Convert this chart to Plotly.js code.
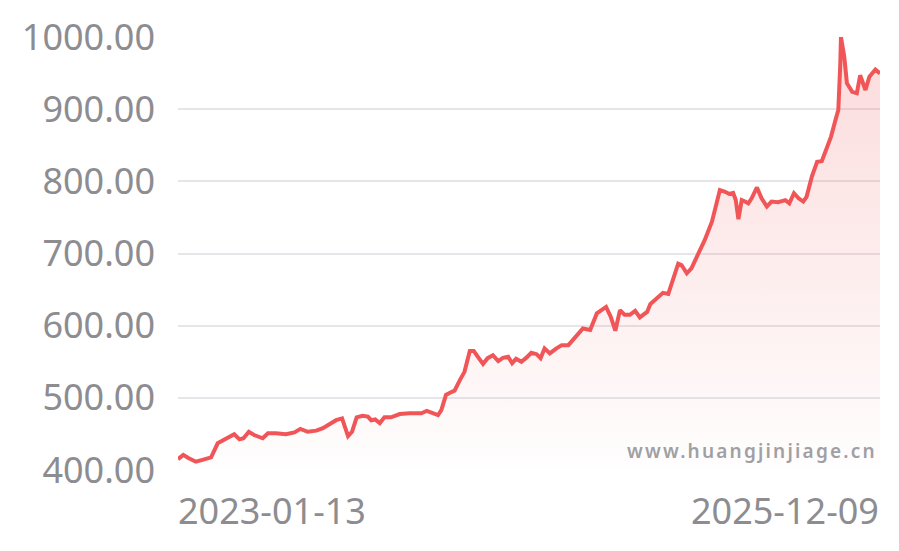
<!DOCTYPE html>
<html>
<head>
<meta charset="utf-8">
<script src="https://cdn.plot.ly/plotly-3.0.1.min.js"></script>
<style>
  html, body { margin: 0; padding: 0; background: #ffffff; }
  #chart { width: 899px; height: 551px; }
  .watermark-text { letter-spacing: 2.2px; }
</style>
</head>
<body>
<div id="chart"></div>
<script>
const dates = [
  '2023-01-13','2023-01-21','2023-01-28','2023-02-09','2023-02-19','2023-03-04','2023-03-14','2023-03-21','2023-03-29','2023-04-08',
  '2023-04-16','2023-04-22','2023-04-30','2023-05-08','2023-05-21','2023-05-29','2023-06-10','2023-06-25','2023-07-08','2023-07-17',
  '2023-07-28','2023-08-10','2023-08-20','2023-08-30','2023-09-09','2023-09-18','2023-09-27','2023-10-03','2023-10-10','2023-10-19',
  '2023-10-27','2023-11-01','2023-11-07','2023-11-14','2023-11-21','2023-12-01','2023-12-14','2023-12-29','2024-01-16','2024-01-24',
  '2024-01-31','2024-02-10','2024-02-15','2024-02-22','2024-02-28','2024-03-06','2024-03-14','2024-03-21','2024-03-29','2024-04-04',
  '2024-04-10','2024-04-18','2024-04-25','2024-05-03','2024-05-11','2024-05-18','2024-05-26','2024-06-01','2024-06-07','2024-06-15',
  '2024-06-23','2024-06-30','2024-07-08','2024-07-14','2024-07-20','2024-07-28','2024-08-07','2024-08-15','2024-08-25','2024-09-04',
  '2024-09-16','2024-09-27','2024-10-07','2024-10-14','2024-10-21','2024-10-28','2024-11-04','2024-11-11','2024-11-18','2024-11-26',
  '2024-12-04','2024-12-11','2024-12-22','2024-12-27','2025-01-05','2025-01-15','2025-01-23','2025-01-31','2025-02-07','2025-02-12',
  '2025-02-20','2025-02-27','2025-03-09','2025-03-19','2025-03-30','2025-04-06','2025-04-11','2025-04-19','2025-04-25','2025-05-01',
  '2025-05-05','2025-05-09','2025-05-14','2025-05-19','2025-05-24','2025-05-29','2025-06-06','2025-06-13','2025-06-21','2025-06-28',
  '2025-07-08','2025-07-19','2025-07-25','2025-08-01','2025-08-08','2025-08-15','2025-08-20','2025-08-28','2025-09-05','2025-09-12',
  '2025-09-18','2025-09-26','2025-10-02','2025-10-07','2025-10-10','2025-10-11','2025-10-16','2025-10-20','2025-10-28','2025-11-04',
  '2025-11-09','2025-11-17','2025-11-23','2025-12-02','2025-12-09'
];
const prices = [
  415, 421, 417, 411.5, 414, 417.5, 437, 440.5, 443, 449.5,
  442.5, 444, 453, 448.5, 444, 451, 451, 449.5, 452, 457,
  453, 454.5, 458, 463, 469, 471.5, 447, 453, 473, 475,
  474, 469, 470, 465, 473, 473, 477.5, 478.5, 478.5, 482,
  479.5, 476, 483, 504, 507, 510, 524.5, 536, 565, 565,
  557, 547, 555, 559, 551, 555.5, 557, 548, 554, 550,
  556, 562.5, 560.5, 555, 568.5, 561.5, 568.5, 573, 573, 584,
  596, 594, 617, 621.5, 626, 612.5, 593, 621.5, 615, 615,
  620.5, 611.5, 619, 630, 637, 645.5, 644, 668, 686, 684,
  672.5, 679.5, 698, 718.5, 744, 767, 788, 785.5, 782.5, 784,
  774, 747.5, 774, 772, 769.5, 776.5, 791.5, 776.5, 765, 772,
  771, 774, 769.5, 783.5, 776.5, 772, 778.5, 806.5, 827, 828,
  843.5, 862, 882.5, 899, 963.5, 1000, 972.5, 936, 924, 922,
  947, 926.5, 945, 955, 949.5
];
const xTickLabels = ['2023-01-13', '2025-12-09'];
const yTickValues = [400, 500, 600, 700, 800, 900, 1000];
const watermark = 'www.huangjinjiage.cn';

const labelFont = { family: 'Noto Sans, Open Sans, sans-serif', size: 36, color: '#8c8c91' };

const trace = {
  type: 'scatter',
  mode: 'lines',
  x: dates,
  y: prices,
  line: { color: '#f05558', width: 4 },
  fill: 'tozeroy',
  fillgradient: {
    type: 'vertical',
    start: 400,
    stop: 1000,
    colorscale: [[0, 'rgba(240,90,92,0.01)'], [1, 'rgba(240,90,92,0.22)']]
  },
  hoverinfo: 'skip'
};

const layout = {
  width: 899,
  height: 551,
  margin: { l: 178, r: 19, t: 37, b: 81 },
  paper_bgcolor: '#ffffff',
  plot_bgcolor: '#ffffff',
  showlegend: false,
  xaxis: {
    type: 'date',
    range: [dates[0], dates[dates.length - 1]],
    showgrid: false,
    zeroline: false,
    showline: false,
    showticklabels: false,
    ticks: ''
  },
  yaxis: {
    range: [400, 1000],
    tickvals: yTickValues,
    tickformat: '.2f',
    showgrid: true,
    gridcolor: '#e6e6ea',
    gridwidth: 2,
    zeroline: false,
    showline: false,
    ticks: '',
    ticklabelstandoff: 22,
    tickfont: labelFont
  },
  annotations: [
    { xref: 'paper', yref: 'paper', x: 0, y: 0, xanchor: 'left', yanchor: 'middle', yshift: -40, xshift: -2,
      text: xTickLabels[0], showarrow: false, font: labelFont },
    { xref: 'paper', yref: 'paper', x: 1, y: 0, xanchor: 'right', yanchor: 'middle', yshift: -40, xshift: 1,
      text: xTickLabels[1], showarrow: false, font: labelFont },
    { xref: 'paper', yref: 'paper', x: 0.641, y: 0.044, xanchor: 'left', yanchor: 'middle', xshift: 19,
      text: watermark, showarrow: false,
      font: { family: 'Noto Sans, Open Sans, sans-serif', size: 19, color: '#a0a0a4', weight: 600 } }
  ]
};

Plotly.newPlot('chart', [trace], layout, { displayModeBar: false, staticPlot: true }).then(function (gd) {
  const texts = gd.querySelectorAll('.annotation-text');
  if (texts.length) texts[texts.length - 1].classList.add('watermark-text');
});
</script>
</body>
</html>
